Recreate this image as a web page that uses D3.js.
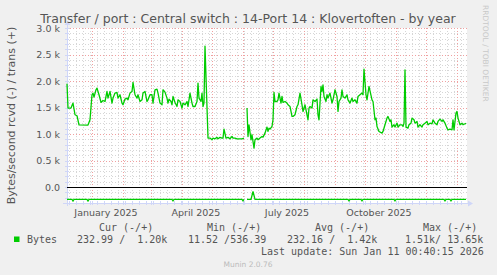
<!DOCTYPE html>
<html lang="en">
<head>
<meta charset="UTF-8">
<title>Transfer / port : Central switch : 14-Port 14 : Klovertoften - by year</title>
<script src="https://d3js.org/d3.v7.min.js"></script>
<style>
  body { margin: 0; background: #f0f0f0; }
  svg { display: block; font-family: "DejaVu Sans", sans-serif; }
  .lbl { fill: #555; }
  .mono { font-family: "DejaVu Sans Mono", monospace; font-size: 10px; fill: #555; white-space: pre; }
</style>
</head>
<body>
<script>
// 400 days ending at the last update
var endTime = new Date(Date.UTC(2026, 0, 11, 0, 40, 15));
var startTime = new Date(+endTime - 400 * 864e5);

// trans (+), bytes/second, by day offset from startTime (null = no data)
var transDay = [0,1,4,6,8,10,12,21,23,25,26,27,29,30,32,34,36,38,40,41,43,45,46,48,50,51,53,55,56,58,
  60,61,63,65,66,68,70,71,73,75,76,78,80,81,83,85,86,88,90,91,93,95,96,98,100,101,102,104,105,106,
  108,110,111,113,115,116,118,120,121,123,125,126,128,130,131,132,134,135,136,137,138,141,143,145,146,148,150,151,153,155,
  156,157,159,161,163,165,166,168,170,173,175,177,178.5,180,181,182,184,185,187,188,190,191,193,195,196,198,200,201,202,
  203,205,206,207,208,210,211,212,214,215,216,218,220,221,223,225,226,228,230,231,233,235,236,238,240,241,242,243,245,246,
  248,250,251,252,254,255,256,257,259,260,261,263,265,266,268,270,271,272,274,275,276,278,280,281,283,285,286,288,290,291,
  293,295,296,297,299,300,302,305,306,308,309,310,312,315,316,318,320,321,323,324,325,327,328,330,331,333,335,336,337,338,
  339,341,342,344,345,347,348,350,351,353,355,356,358,360,361,363,365,366,368,370,371,373,375,376,378,380,381,383,385,386,
  387,389,390,391,393,395,396,398,399];
var transVal = [1950,1490,1490,1584,1364,1345,1175,1170,1269,1741,1773,1697,1835,1867,1741,1596,1633,1614,1803,1678,1803,1584,1678,1773,1784,1678,1741,1584,1552,1660,
  1678,1646,1773,1803,1973,1741,1678,1741,1614,1646,1773,1803,1614,1646,1741,1741,1584,1835,1848,1773,1584,1552,1835,1790,1678,1584,1660,1614,1552,1709,
  1596,1520,1646,1614,1490,1584,1552,1614,1520,1773,1584,1520,1520,1614,1961,1678,1614,1773,1520,1584,2660,924,924,892,924,911,937,911,937,924,
  924,1094,924,937,911,956,924,924,911,911,911,924,null,1490,954,1175,892,987,735,892,924,892,924,954,943,1018,1132,1050,1112,
  1094,1143,1269,1784,1614,1614,1646,1773,1584,1709,1596,1614,1584,1552,1520,1332,1332,1364,1520,1552,1773,1552,1426,1552,1364,1269,1490,1520,1490,1646,
  1614,1660,1364,1269,1897,1803,1929,1709,1614,1741,1678,1773,1584,1646,1835,1709,1426,1614,1678,1835,1709,1678,1741,1646,1584,1678,1614,1646,1584,1709,
  1741,1773,1741,2225,1741,1646,1900,1646,1614,1269,1301,1143,1049,1018,1049,1175,1301,1332,1238,1269,1132,1175,1132,1206,1132,1175,1175,1143,1206,2212,
  1132,1112,1175,1206,1301,1269,1206,1238,1132,1175,1132,1175,1206,1238,1175,1206,1194,1269,1206,1175,1238,1282,1238,1269,1206,1112,1080,1094,1080,1269,
  1080,1396,1426,1301,1175,1206,1175,1194,1200];

// rcvd (-), bytes/second, drawn below zero
var rcvdDay = [0,5,6,7,20,21,22,105,106,107,175,176,177,178.5,180,184,186,188,281,282,283,294,295,296,327,328,329,377,378,379,383,384,385,399];
var rcvdVal = [232,232,262,232,232,262,232,232,258,232,232,258,232,null,232,232,83,232,232,258,232,232,258,232,232,258,232,232,258,232,232,258,232,233];

var yTicks = [0, 500, 1000, 1500, 2000, 2500, 3000];
var yTickLabels = ["0.0", "0.5 k", "1.0 k", "1.5 k", "2.0 k", "2.5 k", "3.0 k"];
var xLabelDates = ["2025-01-15", "2025-04-15", "2025-07-15", "2025-10-15"];
var xLabels = ["January 2025", "April 2025", "July 2025", "October 2025"];

var legendHead = ["Cur (-/+)", "Min (-/+)", "Avg (-/+)", "Max (-/+)"];
var legendVals = ["232.99 /  1.20k", "11.52 /536.39", "232.16 /  1.42k", "1.51k/ 13.65k"];

var W = 497, H = 275;
var plotL = 67, plotR = 467, plotT = 28, plotB = 203;

var svg = d3.select("body").append("svg").attr("width", W).attr("height", H);
svg.append("rect").attr("width", W).attr("height", H).attr("fill", "#f0f0f0");

var x = d3.scaleUtc().domain([startTime, endTime]).range([plotL, plotR]);
var y = d3.scaleLinear().domain([-300, 3000]).range([plotB, plotT]);

// canvas
svg.append("rect").attr("x", plotL).attr("y", plotT).attr("width", plotR - plotL).attr("height", plotB - plotT).attr("fill", "#ffffff");

var grid = svg.append("g").attr("shape-rendering", "crispEdges");
var px = function (v) { return Math.round(v) + 0.5; };

// minor grid
var weeks = d3.utcMonday.range(startTime, endTime);
grid.selectAll(".vmin").data(weeks).enter().append("line")
  .attr("x1", function (d) { return px(x(d)); }).attr("x2", function (d) { return px(x(d)); })
  .attr("y1", plotT).attr("y2", plotB)
  .attr("stroke", "#d6d6d6").attr("stroke-dasharray", "1,2");
var minorY = d3.range(-300, 3001, 100).filter(function (v) { return v % 500 !== 0; });
grid.selectAll(".hmin").data(minorY).enter().append("line")
  .attr("x1", plotL).attr("x2", plotR)
  .attr("y1", function (d) { return px(y(d)); }).attr("y2", function (d) { return px(y(d)); })
  .attr("stroke", "#d6d6d6").attr("stroke-dasharray", "1,2");

// major grid
var months = d3.utcMonth.range(startTime, endTime);
grid.selectAll(".vmaj").data(months).enter().append("line")
  .attr("x1", function (d) { return px(x(d)); }).attr("x2", function (d) { return px(x(d)); })
  .attr("y1", plotT).attr("y2", plotB)
  .attr("stroke", "#f0a0a0").attr("stroke-dasharray", "1,2");
grid.selectAll(".hmaj").data(yTicks).enter().append("line")
  .attr("x1", plotL).attr("x2", plotR)
  .attr("y1", function (d) { return px(y(d)); }).attr("y2", function (d) { return px(y(d)); })
  .attr("stroke", "#f0a0a0").attr("stroke-dasharray", "1,2");

// axis ticks
grid.selectAll(".ytk").data(d3.range(-300, 3001, 100)).enter().append("line")
  .attr("x1", plotL - 2).attr("x2", plotL + 2)
  .attr("y1", function (d) { return px(y(d)); }).attr("y2", function (d) { return px(y(d)); })
  .attr("stroke", "#cfd6f8");
grid.selectAll(".xtk").data(weeks.concat(months)).enter().append("line")
  .attr("x1", function (d) { return px(x(d)); }).attr("x2", function (d) { return px(x(d)); })
  .attr("y1", plotB - 2).attr("y2", plotB + 2)
  .attr("stroke", "#cfd6f8");

// axes with arrows
grid.append("line").attr("x1", px(plotL)).attr("x2", px(plotL)).attr("y1", plotB + 3).attr("y2", plotT - 4).attr("stroke", "#cfd6f8");
grid.append("line").attr("x1", plotL - 4).attr("x2", plotR + 3).attr("y1", px(plotB)).attr("y2", px(plotB)).attr("stroke", "#cfd6f8");
svg.append("path").attr("d", "M" + (plotL - 2.5) + "," + (plotT - 3) + "L" + (plotL + 3.5) + "," + (plotT - 3) + "L" + (plotL + 0.5) + "," + (plotT - 7) + "Z").attr("fill", "#cfd6f8");
svg.append("path").attr("d", "M" + (plotR + 1) + "," + (plotB - 2.5) + "L" + (plotR + 1) + "," + (plotB + 3.5) + "L" + (plotR + 6) + "," + (plotB + 0.5) + "Z").attr("fill", "#cfd6f8");

// zero line
svg.append("line").attr("x1", plotL).attr("x2", plotR).attr("y1", px(y(0))).attr("y2", px(y(0)))
  .attr("stroke", "#000").attr("shape-rendering", "crispEdges");

// series
var toPts = function (days, vals, sign) {
  return days.map(function (d, i) {
    return { t: new Date(+startTime + d * 864e5), v: vals[i] == null ? null : sign * vals[i] };
  });
};
var line = d3.line()
  .defined(function (d) { return d.v != null; })
  .x(function (d) { return x(d.t); })
  .y(function (d) { return y(d.v); });

svg.append("path").datum(toPts(rcvdDay, rcvdVal, -1)).attr("d", line)
  .attr("fill", "none").attr("stroke", "#00cc00").attr("stroke-width", 1.3);
svg.append("path").datum(toPts(transDay, transVal, 1)).attr("d", line)
  .attr("fill", "none").attr("stroke", "#00cc00").attr("stroke-width", 1.3).attr("stroke-linejoin", "round");

// y tick labels
svg.append("g").selectAll("text").data(yTicks).enter().append("text")
  .attr("class", "lbl").attr("font-size", "9.5px").attr("text-anchor", "end")
  .attr("x", 60).attr("y", function (d) { return y(d) + 3.5; })
  .text(function (d, i) { return yTickLabels[i]; });

// x labels
svg.append("g").selectAll("text").data(xLabelDates).enter().append("text")
  .attr("class", "lbl").attr("font-size", "9.5px").attr("text-anchor", "middle")
  .attr("x", function (d) { return x(new Date(d + "T00:00:00Z")); }).attr("y", 215.5)
  .text(function (d, i) { return xLabels[i]; });

// title and y axis title
svg.append("text").attr("class", "lbl").attr("font-size", "12.5px").attr("text-anchor", "middle")
  .attr("x", 248).attr("y", 23).text("Transfer / port : Central switch : 14-Port 14 : Klovertoften - by year");
svg.append("text").attr("class", "lbl").attr("font-size", "11px").attr("text-anchor", "middle")
  .attr("transform", "translate(15,115.5) rotate(-90)").text("Bytes/second rcvd (-) / trans (+)");

// watermark
svg.append("text").attr("font-size", "7.5px").attr("fill", "#c8c8c8")
  .attr("transform", "translate(483,5) rotate(90)").text("RRDTOOL / TOBI OETIKER");

// legend
var headX = [99, 207, 315, 423], valX = [77, 188, 287, 405];
svg.append("g").selectAll("text").data(legendHead).enter().append("text")
  .attr("class", "mono").attr("x", function (d, i) { return headX[i]; }).attr("y", 231).text(function (d) { return d; });
svg.append("rect").attr("x", 14).attr("y", 236.5).attr("width", 5.5).attr("height", 5.5).attr("fill", "#00cc00");
svg.append("text").attr("class", "mono").attr("x", 27).attr("y", 243).text("Bytes");
svg.append("g").selectAll("text").data(legendVals).enter().append("text")
  .attr("class", "mono").attr("x", function (d, i) { return valX[i]; }).attr("y", 243).text(function (d) { return d; });
svg.append("text").attr("class", "mono").attr("x", 261).attr("y", 255).text("Last update: Sun Jan 11 00:40:15 2026");

svg.append("text").attr("font-size", "7.5px").attr("fill", "#bbbbbb").attr("text-anchor", "middle")
  .attr("x", 248).attr("y", 266.5).text("Munin 2.0.76");
</script>
</body>
</html>
